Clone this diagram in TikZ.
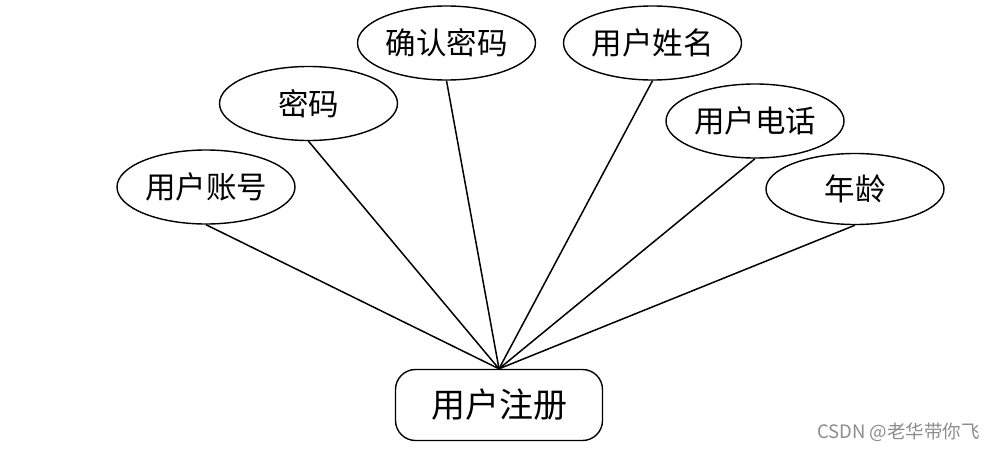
\documentclass[tikz,border=0pt]{standalone}
\usepackage{fontspec}
\setmainfont{Noto Sans CJK SC}
\newfontfamily\cjk{Noto Sans CJK SC}
\usetikzlibrary{shapes.geometric}
\tikzset{
  attr/.style={draw, ellipse, line width=1.4pt, minimum width=178pt, minimum height=74pt, inner sep=0pt, font=\cjk\fontsize{30.5}{33}\selectfont},
  entity/.style={draw, rounded corners=20pt, line width=1.4pt, minimum width=207pt, minimum height=71pt, inner sep=0pt, font=\cjk\fontsize{34}{37}\selectfont},
  link/.style={line width=1.5pt},
  mark text/.style={text=black!45, font=\cjk\fontsize{18.5}{20}\selectfont, inner sep=0pt}
}
\begin{document}
\begin{tikzpicture}[x=1pt,y=-1pt]
\useasboundingbox (0,0) rectangle (996,450);
\node[attr] (zh) at (206,187) {用户账号};
\node[attr] (mm) at (308.5,103.5) {密码};
\node[attr] (qr) at (446.5,43) {确认密码};
\node[attr] (xm) at (652.5,43) {用户姓名};
\node[attr] (dh) at (755,121) {用户电话};
\node[attr, minimum height=71pt] (nl) at (855,189) {年龄};
\node[entity] (zc) at (499,405) {用户注册};
\foreach \a in {zh,mm,qr,xm,dh,nl} \draw[link] (\a.south) -- (zc.north);
\node[mark text, anchor=east] (wm) at (980,432) {CSDN @老华带你飞};
\end{tikzpicture}
\end{document}
